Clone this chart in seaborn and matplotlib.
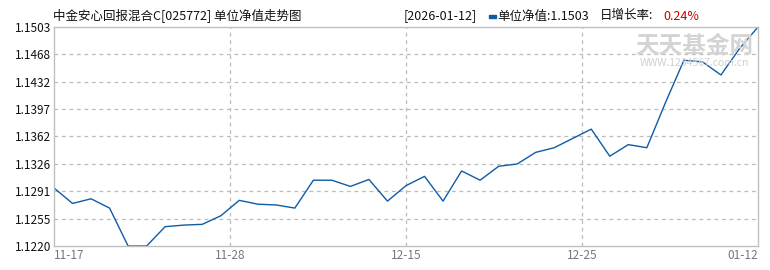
import matplotlib
matplotlib.use("Agg")
import matplotlib.pyplot as plt
import seaborn as sns
import pandas as pd

sns.set_theme(style="white")
plt.rcParams['font.family'] = ['Noto Sans CJK SC', 'DejaVu Sans']

# ---- data ----
title = "中金安心回报混合C[025772] 单位净值走势图"
nav = [1.1295, 1.1275, 1.1281, 1.1269, 1.1220, 1.1220, 1.1245, 1.1247, 1.1248, 1.1259,
       1.1279, 1.1274, 1.1273, 1.1269, 1.1305, 1.1305, 1.1297, 1.1306, 1.1278, 1.1298,
       1.1310, 1.1278, 1.1317, 1.1305, 1.1323, 1.1326, 1.1341, 1.1347, 1.1359, 1.1371,
       1.1336, 1.1351, 1.1347, 1.1405, 1.1460, 1.1458, 1.1441, 1.1475, 1.1503]
x_tick_labels = ["11-17", "11-28", "12-15", "12-25", "01-12"]
y_tick_values = [1.1220, 1.1255, 1.1291, 1.1326, 1.1362, 1.1397, 1.1432, 1.1468, 1.1503]
latest_date = "2026-01-12"
latest_nav = "1.1503"
daily_growth = "0.24%"

df = pd.DataFrame({"idx": range(len(nav)), "nav": nav})

W, H = 770, 270
fig = plt.figure(figsize=(W / 100, H / 100), dpi=100)
L, R, T, B = 54, 758, 27, 246
ax = fig.add_axes([L / W, 1 - B / H, (R - L) / W, (B - T) / H])

sns.lineplot(data=df, x="idx", y="nav", ax=ax, color="#0e5ca8", linewidth=1.0)

n = len(nav) - 1
ymin, ymax = 1.1220, 1.1503
ax.set_xlim(0, n)
ax.set_ylim(ymin, ymax)

xt = [n * i / 4 for i in range(5)]
ax.set_xticks(xt)
labels = ax.set_xticklabels(x_tick_labels, color="#777777", fontsize=8.5)
labels[0].set_ha("left")
labels[-1].set_ha("right")
yt = [ymin + (ymax - ymin) * i / 8 for i in range(9)]
ax.set_yticks(yt)
ax.set_yticklabels([f"{v:.4f}" for v in y_tick_values], color="#111111", fontsize=8.5)
ax.tick_params(axis="both", length=0, pad=2)
ax.set_xlabel("")
ax.set_ylabel("")

for y in yt[1:-1]:
    ax.axhline(y, color="#bbbbbb", linestyle=(0, (3, 3)), linewidth=0.9, zorder=0)
for x in xt[1:-1]:
    ax.axvline(x, color="#bbbbbb", linestyle=(0, (3, 3)), linewidth=0.9, zorder=0)

for s in ax.spines.values():
    s.set_color("#c0c0c0")
    s.set_linewidth(1.0)
    s.set_visible(True)

# watermark
fig.text(694 / W, 1 - 46 / H, "天天基金网", fontsize=17, color="#d4d4d4",
         ha="center", va="center", fontweight="bold", zorder=0)
fig.text(694 / W, 1 - 63 / H, "WWW.1234567.com.cn", fontsize=7.5, color="#d0d0d0",
         ha="center", va="center", zorder=0)

# header
ty = 1 - 16 / H
fig.text(53 / W, ty, title, fontsize=9, color="#111111", ha="left", va="center")
fig.text(404 / W, ty, f"[{latest_date}]", fontsize=9, color="#111111", ha="left", va="center")
fig.patches.append(plt.Rectangle((489 / W, 1 - 18 / H), 7 / W, 3 / H,
                                 transform=fig.transFigure, color="#0e5ca8"))
fig.text(497 / W, ty, f"单位净值:{latest_nav}", fontsize=9, color="#111111", ha="left", va="center")
fig.text(600 / W, ty, "日增长率:", fontsize=9, color="#111111", ha="left", va="center")
fig.text(663 / W, ty, daily_growth, fontsize=9, color="#cc0000", ha="left", va="center")

fig.savefig("out.png", dpi=100)
